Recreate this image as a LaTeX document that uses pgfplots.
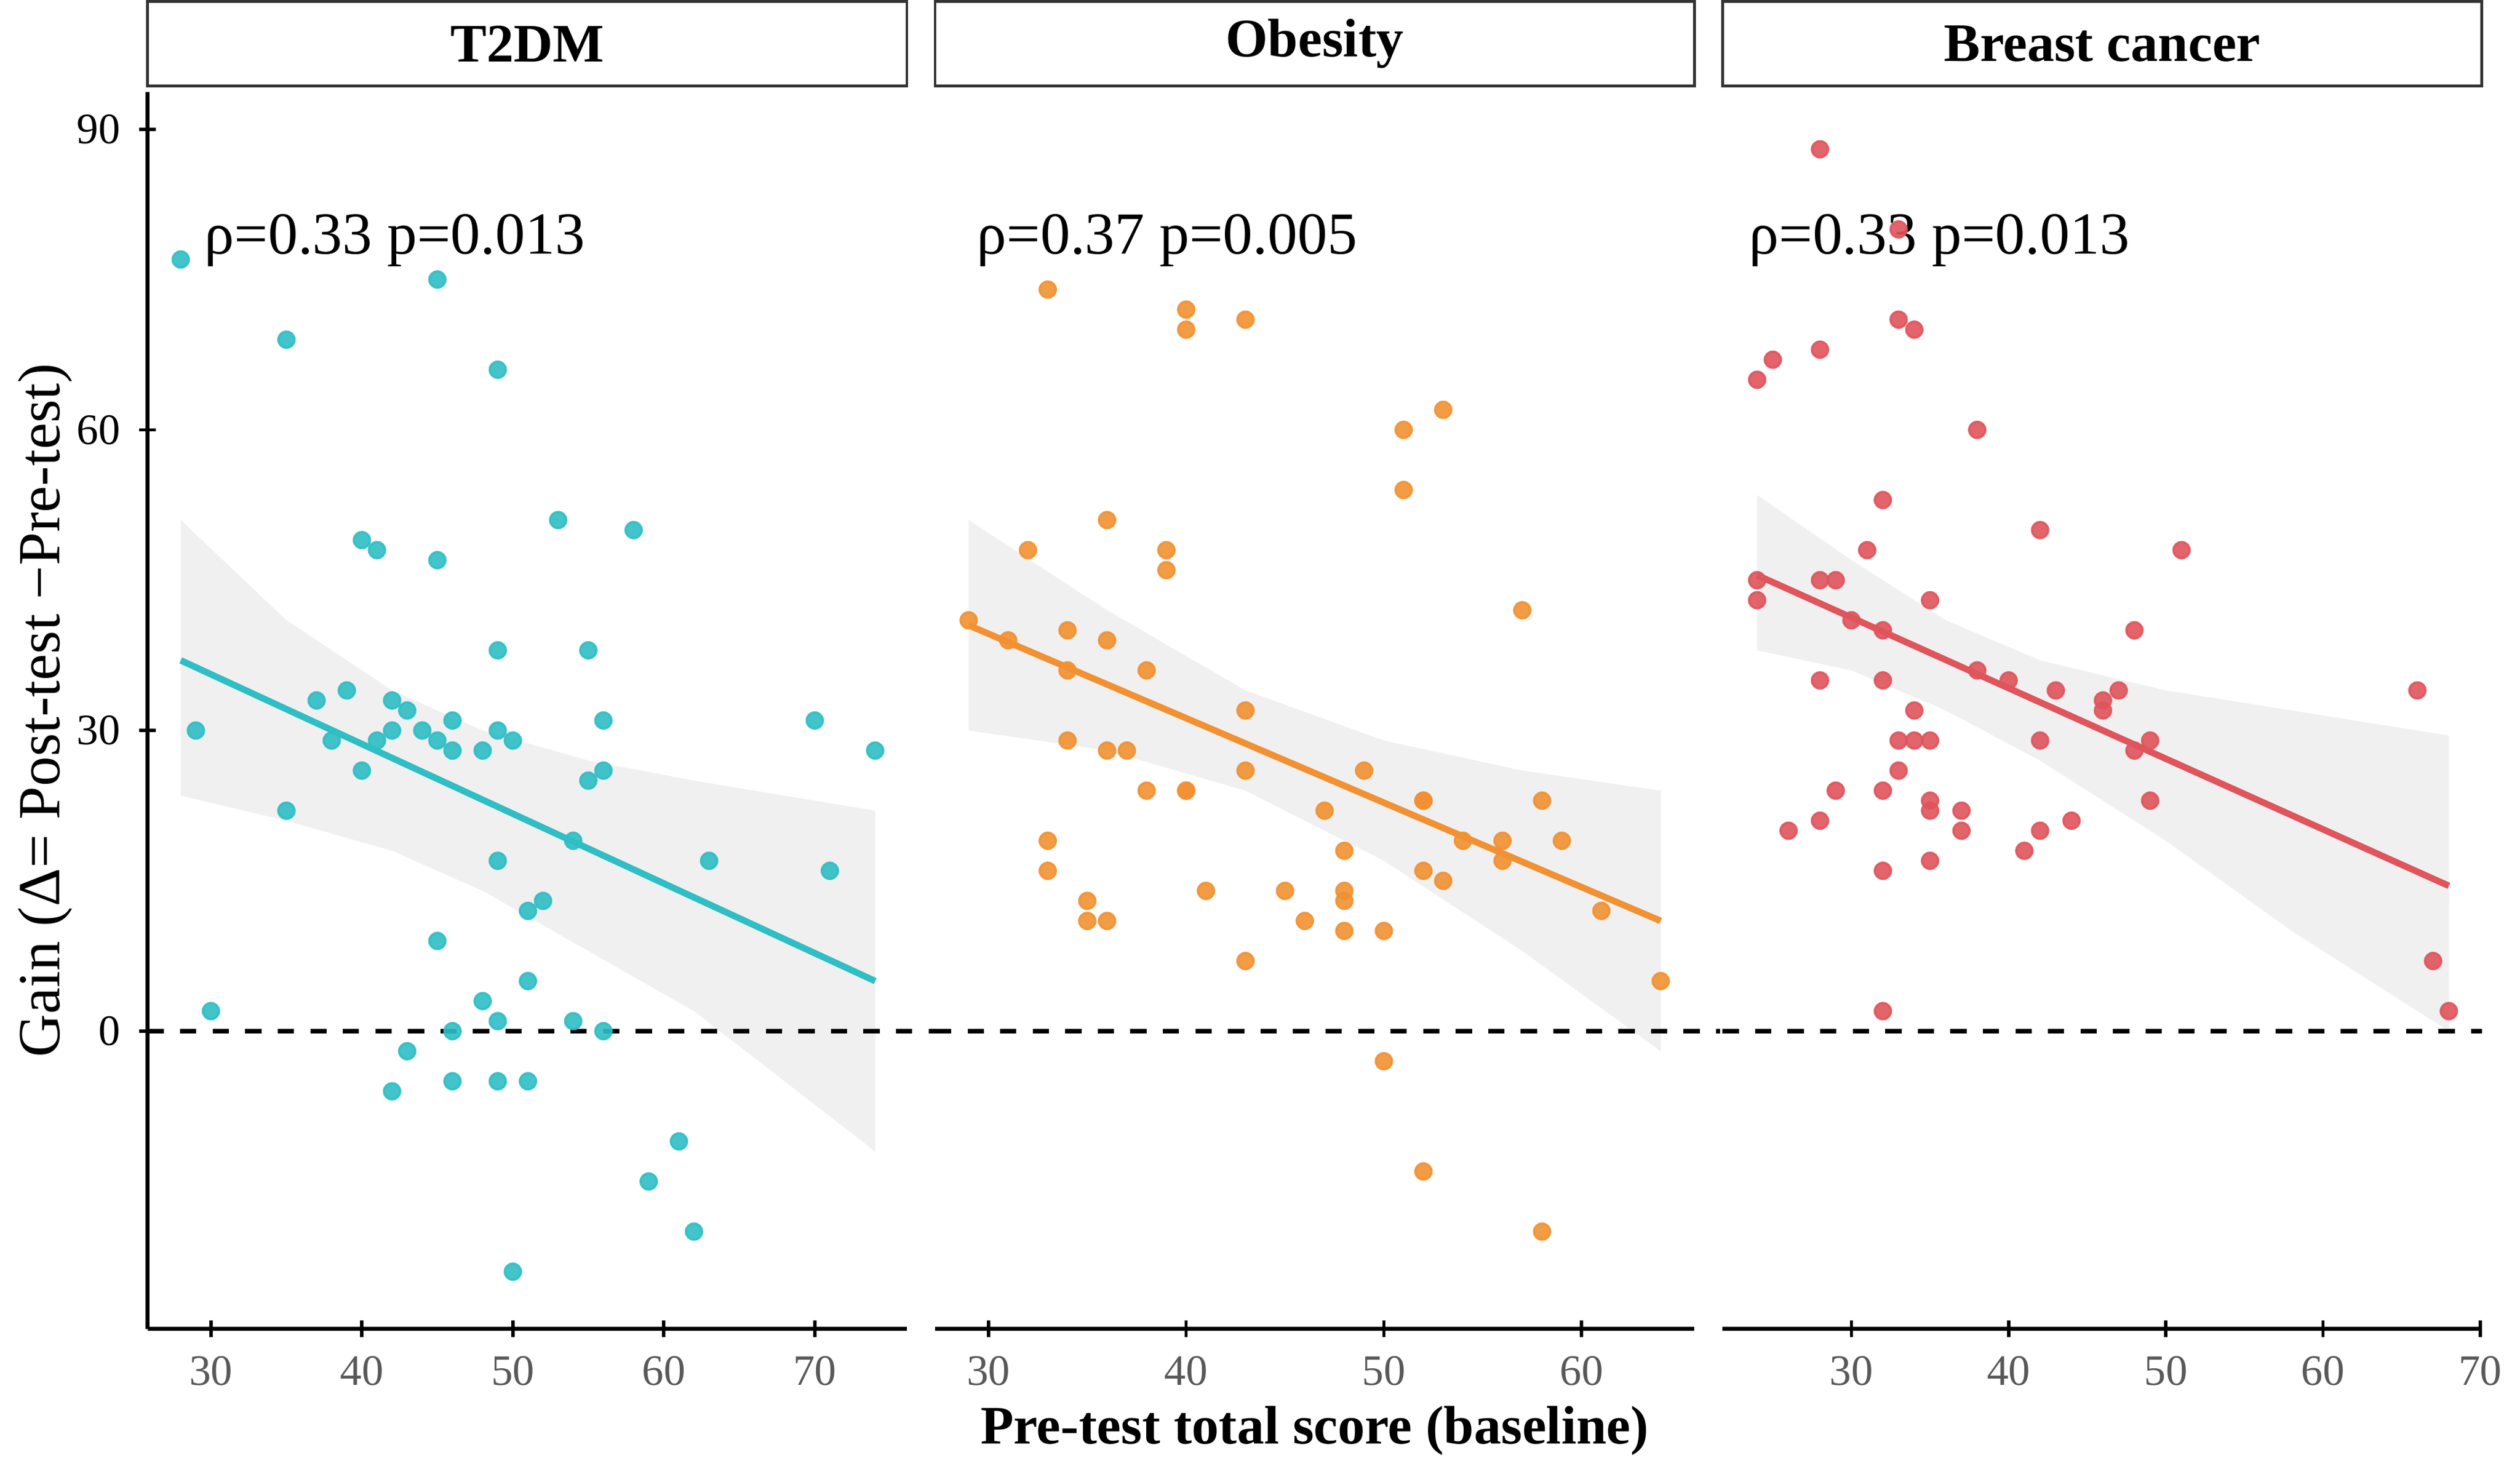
\documentclass[border=0pt]{standalone}
\usepackage{pgfplots}
\pgfplotsset{compat=1.18}
\usepackage{fontspec}
\setmainfont{Liberation Serif}
\definecolor{cT}{RGB}{46,190,196}
\definecolor{cO}{RGB}{242,145,50}
\definecolor{cB}{RGB}{224,84,92}
\definecolor{band}{gray}{0.94}
\pgfplotsset{panel/.style={width=140pt,height=228pt,scale only axis,
 ymin=-29.7,ymax=93.7, axis line style={black,line width=0.8pt},
 tick style={black,line width=0.6pt}, major tick length=3pt, tick align=outside,
 ticklabel style={font=\fontsize{8}{9}\selectfont},
 xticklabel style={text=black!65},
 /pgf/number format/assume math mode=true, clip=false}}
\newcommand\strip[1]{\draw[black!80,line width=0.5pt] (rel axis cs:0,1.005) rectangle ([yshift=15.6pt]rel axis cs:1,1.005);
 \node[font=\fontsize{10}{11}\selectfont\bfseries] at ([yshift=7.8pt]rel axis cs:0.5,1.005) {#1};}
\begin{document}
\begin{tikzpicture}
\begin{axis}[panel, name=a1, xmin=25.8,xmax=76.1, axis x line=bottom, axis y line=left,
 xtick={30,40,...,70}, ytick={0,30,60,90}, axis line style={-},
 ylabel={Gain (Δ= Post-test −Pre-test)}, ylabel style={font=\fontsize{11}{12}\selectfont, yshift=-6pt}]
\strip{T2DM}
\addplot[fill=band,draw=none] coordinates {(28,51)(35,41)(42,34)(48,30)(55,27)(62,25)(74,22)(74,-12)(62,2)(55,8)(48,14)(42,18)(35,21)(28,23.5)} -- cycle;
\draw[dashed,line width=0.8pt] (axis cs:25.8,0) -- (axis cs:78,0);
\addplot[only marks,mark=*,mark size=1.5pt,cT,opacity=0.9] coordinates {(28,77)(29,30)(30,2)(35,69)(35,22)(37,33)(38,29)(39,34)(40,49)(40,26)(41,48)(41,29)(42,33)(42,30)(42,-6)(43,32)(43,-2)(44,30)(45,75)(45,47)(45,29)(45,9)(46,31)(46,28)(46,0)(46,-5)(48,28)(48,3)(49,66)(49,38)(49,30)(49,17)(49,1)(49,-5)(50,29)(50,-24)(51,12)(51,5)(51,-5)(52,13)(53,51)(54,19)(54,1)(55,38)(55,25)(56,31)(56,26)(56,0)(58,50)(59,-15)(61,-11)(62,-20)(63,17)(70,31)(71,16)(74,28)};
\addplot[cT,line width=1.2pt] coordinates {(28,37)(74,5)};
\node[anchor=west,font=\fontsize{11}{12}\selectfont] at (rel axis cs:0.05,0.88) {ρ=0.33 p=0.013};
\end{axis}
\begin{axis}[panel, at={(145.2pt,0)}, xmin=27.3,xmax=65.7, axis x line=bottom, hide y axis,
 xtick={30,40,50,60}, axis line style={-}, ytick=\empty,
 xlabel={Pre-test total score (baseline)}, xlabel style={font=\fontsize{10}{11}\selectfont\bfseries, yshift=3pt}]
\strip{Obesity}
\addplot[fill=band,draw=none] coordinates {(29,51)(36,42)(43,34)(50,29)(57,26)(64,24)(64,-2)(57,8)(50,17)(43,24)(36,28)(29,30)} -- cycle;
\draw[dashed,line width=0.8pt] (axis cs:27.3,0) -- (axis cs:67,0);
\addplot[only marks,mark=*,mark size=1.5pt,cO,opacity=0.9] coordinates {(29,41)(31,39)(32,48)(33,74)(33,19)(33,16)(34,40)(34,36)(34,29)(35,13)(35,11)(36,51)(36,39)(36,28)(36,11)(37,28)(38,36)(38,24)(39,48)(39,46)(40,72)(40,70)(40,24)(40,24)(41,14)(43,71)(43,32)(43,26)(43,7)(45,14)(46,11)(47,22)(48,18)(48,14)(48,13)(48,10)(49,26)(50,10)(50,-3)(51,60)(51,54)(52,23)(52,23)(52,16)(52,-14)(53,62)(53,15)(54,19)(56,19)(56,17)(57,42)(58,23)(58,-20)(59,19)(61,12)(64,5)};
\addplot[cO,line width=1.2pt] coordinates {(29,40.5)(64,11)};
\node[anchor=west,font=\fontsize{11}{12}\selectfont] at (rel axis cs:0.03,0.88) {ρ=0.37 p=0.005};
\end{axis}
\begin{axis}[panel, at={(290.4pt,0)}, xmin=21.8,xmax=70.1, axis x line=bottom, hide y axis,
 xtick={30,40,...,70}, axis line style={-}, ytick=\empty]
\strip{Breast cancer}
\addplot[fill=band,draw=none] coordinates {(24,53.5)(30,47)(36,41)(42,37)(50,34)(58,32)(68,29.5)(68,0)(58,10)(50,19)(42,27)(36,32)(30,36)(24,38)} -- cycle;
\draw[dashed,line width=0.8pt] (axis cs:21.8,0) -- (axis cs:70.1,0);
\addplot[only marks,mark=*,mark size=1.5pt,cB,opacity=0.9] coordinates {(24,65)(24,45)(24,43)(25,67)(26,20)(28,88)(28,68)(28,45)(28,35)(28,21)(29,45)(29,24)(30,41)(31,48)(32,53)(32,40)(32,35)(32,24)(32,16)(32,2)(33,80)(33,71)(33,29)(33,26)(34,70)(34,32)(34,29)(35,43)(35,29)(35,23)(35,22)(35,17)(37,22)(37,20)(38,60)(38,36)(40,35)(41,18)(42,50)(42,29)(42,20)(43,34)(44,21)(46,33)(46,32)(47,34)(48,40)(48,28)(49,29)(49,23)(51,48)(66,34)(67,7)(68,2)};
\addplot[cB,line width=1.2pt] coordinates {(24,45.5)(68,14.5)};
\node[anchor=west,font=\fontsize{11}{12}\selectfont] at (rel axis cs:0.01,0.88) {ρ=0.33 p=0.013};
\end{axis}
\end{tikzpicture}
\end{document}
